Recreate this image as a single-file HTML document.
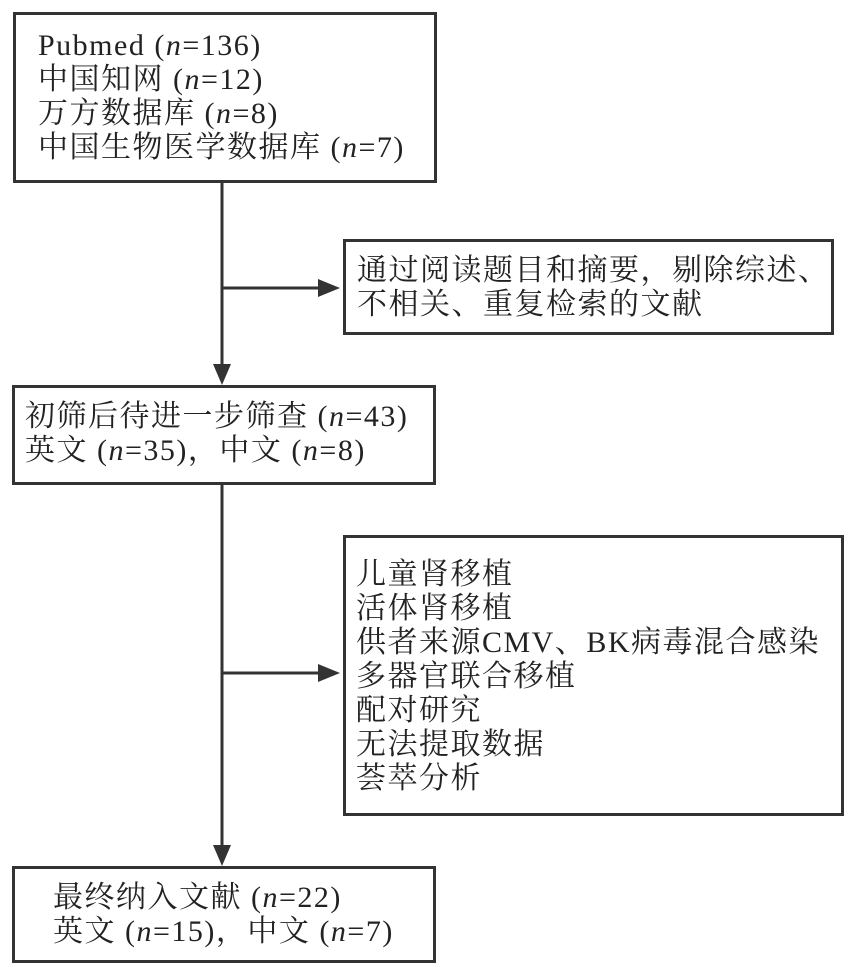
<!DOCTYPE html>
<html><head><meta charset="utf-8"><style>
body{margin:0;width:854px;height:976px;background:#fff;position:relative;overflow:hidden;font-family:"Liberation Serif","Noto Serif CJK SC",serif;color:#222}
.b{position:absolute;border:3px solid #333;box-sizing:border-box;font-size:30px;letter-spacing:1.5px;line-height:34px;white-space:nowrap}
i{font-style:italic}
svg{position:absolute;left:0;top:0}
</style></head><body>
<div class="b" style="left:13px;top:12px;width:424px;height:171px;padding:14px 0 0 22px">Pubmed (<i>n</i>=136)<br>中国知网 (<i>n</i>=12)<br>万方数据库 (<i>n</i>=8)<br>中国生物医学数据库 (<i>n</i>=7)</div>
<div class="b" style="left:343px;top:239px;width:491px;height:96px;padding:12px 0 0 11px">通过阅读题目和摘要，剔除综述、<br>不相关、重复检索的文献</div>
<div class="b" style="left:12px;top:385px;width:424px;height:100px;padding:12px 0 0 10px">初筛后待进一步筛查 (<i>n</i>=43)<br>英文 (<i>n</i>=35)，中文 (<i>n</i>=8)</div>
<div class="b" style="left:343px;top:535px;width:501px;height:281px;padding:20px 0 0 10px">儿童肾移植<br>活体肾移植<br>供者来源CMV、BK病毒混合感染<br>多器官联合移植<br>配对研究<br>无法提取数据<br>荟萃分析</div>
<div class="b" style="left:12px;top:866px;width:424px;height:97px;padding:12px 0 0 38px">最终纳入文献 (<i>n</i>=22)<br>英文 (<i>n</i>=15)，中文 (<i>n</i>=7)</div>
<svg width="854" height="976">
<g stroke="#333" stroke-width="3" fill="none">
<line x1="222" y1="183" x2="222" y2="370"/>
<line x1="222" y1="485" x2="222" y2="851"/>
<line x1="222" y1="288" x2="322" y2="288"/>
<line x1="222" y1="673" x2="322" y2="673"/>
</g>
<g fill="#333">
<polygon points="213,364 231,364 222,385"/>
<polygon points="213,845 231,845 222,866"/>
<polygon points="318,279 318,297 340,288"/>
<polygon points="318,664 318,682 340,673"/>
</g>
</svg>
</body></html>
